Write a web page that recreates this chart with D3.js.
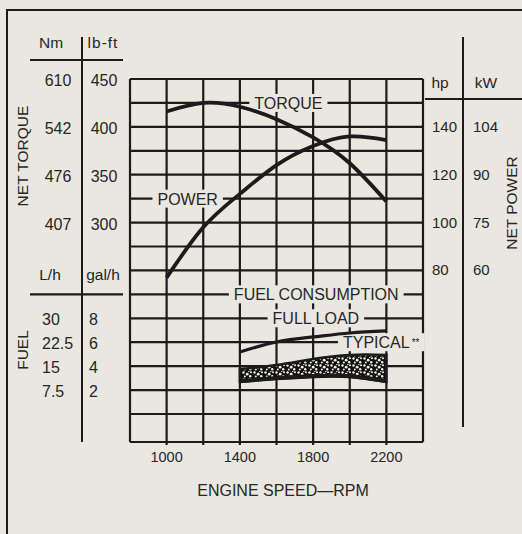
<!DOCTYPE html>
<html>
<head>
<meta charset="utf-8">
<script src="https://cdn.jsdelivr.net/npm/d3@7"></script>
<style>
  html, body { margin: 0; padding: 0; background: #e9e7e0; }
  svg { display: block; }
  text { font-family: "Liberation Sans", Arial, Helvetica, sans-serif; fill: #262626; }
</style>
</head>
<body>
<svg id="chart_svg" width="522" height="534"></svg>
<script>
// Engine speed (rpm) for every curve point
var rpm = [1000, 1200, 1400, 1600, 1800, 2000, 2200];
var fuel_rpm = [1400, 1600, 1800, 2000, 2200];

// Series values
var torque_lbft = [416, 425, 421, 408, 389, 362, 322];
var power_hp = [77, 98, 112, 124, 132, 136, 134.5];
var fuel_full_load = [5.18, 6.02, 6.44, 6.77, 6.94];
var fuel_typical_high = [3.76, 4.10, 4.60, 4.94, 4.94];
var fuel_typical_low = [2.68, 2.92, 3.10, 3.10, 2.68];

// Tick labels
var rpm_ticks = [1000, 1400, 1800, 2200];
var lbft_ticks = [450, 400, 350, 300];
var nm_labels = ["610", "542", "476", "407"];
var galh_ticks = [8, 6, 4, 2];
var lh_labels = ["30", "22.5", "15", "7.5"];
var hp_ticks = [140, 120, 100, 80];
var kw_labels = ["104", "90", "75", "60"];

var ink = "#1b1b1b";
var paper = "#e9e7e0";

var svg = d3.select("#chart_svg");

// Scales
// x: engine speed
var xScale = d3.scaleLinear().domain([800, 2400]).range([130, 423]);
// grid rows (scan is slightly stretched in the last row)
var rowScale = d3.scaleLinear().domain([0, 14, 15]).range([79, 414, 442]);
// each quantity maps to a row of the grid
var torqueScale = function(v) { return rowScale((450 - v) / 25); };
var powerScale = function(v) { return rowScale((160 - v) / 10); };
var fuelScale = function(v) { return rowScale((28 - v) / 2); };

// Outer frame (left and top edges only)
svg.append("path")
    .attr("d", "M7,534 V10 H522")
    .attr("fill", "none")
    .attr("stroke", ink)
    .attr("stroke-width", 2);

// GRID
var grid_g = svg.append("g");

// vertical lines every 200 rpm
grid_g.selectAll("vline")
    .data(d3.range(800, 2401, 200))
    .enter()
    .append("line")
        .attr("x1", function(d) { return xScale(d); })
        .attr("x2", function(d) { return xScale(d); })
        .attr("y1", rowScale(0))
        .attr("y2", function(d) { return (d == 800 || d == 2400) ? rowScale(15) : rowScale(15) + 3; })
        .attr("stroke", ink)
        .attr("stroke-width", 2.2);

// horizontal lines
grid_g.selectAll("hline")
    .data(d3.range(0, 16))
    .enter()
    .append("line")
        .attr("x1", xScale(800))
        .attr("x2", xScale(2400))
        .attr("y1", function(d) { return rowScale(d); })
        .attr("y2", function(d) { return rowScale(d); })
        .attr("stroke", ink)
        .attr("stroke-width", 2.2);

// Labels sitting on grid lines, with a paper-coloured box behind them
function gridLabel(txt, rpmPos, row, anchor, small) {
    var g = svg.append("g");
    var rect = g.append("rect").attr("fill", paper);
    var t = g.append("text")
        .attr("x", xScale(rpmPos))
        .attr("y", rowScale(row) + 6)
        .attr("text-anchor", anchor)
        .style("font-size", "16px")
        .text(txt);
    if (small) {
        t.append("tspan")
            .attr("dy", -2)
            .attr("dx", 2)
            .style("font-size", "10px")
            .text(small);
    }
    var bb = t.node().getBBox();
    rect.attr("x", bb.x - 5)
        .attr("y", rowScale(row) - 9)
        .attr("width", bb.width + 10)
        .attr("height", 18);
}

gridLabel("TORQUE", 1665, 1, "middle");
gridLabel("POWER", 1115, 5, "middle");
gridLabel("FUEL CONSUMPTION", 1817, 9, "middle");
gridLabel("FULL LOAD", 1815, 10, "middle");
gridLabel("TYPICAL", 1963, 11, "start", "**");

// CURVES
var curve_g = svg.append("g");

// Torque
curve_g.append("path")
    .datum(rpm.map(function(d, i) { return { rpm: d, v: torque_lbft[i] }; }))
    .attr("fill", "none")
    .attr("stroke", ink)
    .attr("stroke-width", 3.8)
    .attr("d", d3.line()
        .curve(d3.curveNatural)
        .x(function(d) { return xScale(d.rpm); })
        .y(function(d) { return torqueScale(d.v); })
    );

// Power
curve_g.append("path")
    .datum(rpm.map(function(d, i) { return { rpm: d, v: power_hp[i] }; }))
    .attr("fill", "none")
    .attr("stroke", ink)
    .attr("stroke-width", 3.8)
    .attr("d", d3.line()
        .curve(d3.curveNatural)
        .x(function(d) { return xScale(d.rpm); })
        .y(function(d) { return powerScale(d.v); })
    );

// Fuel full load
curve_g.append("path")
    .datum(fuel_rpm.map(function(d, i) { return { rpm: d, v: fuel_full_load[i] }; }))
    .attr("fill", "none")
    .attr("stroke", ink)
    .attr("stroke-width", 3.2)
    .attr("d", d3.line()
        .curve(d3.curveNatural)
        .x(function(d) { return xScale(d.rpm); })
        .y(function(d) { return fuelScale(d.v); })
    );

// Typical fuel band: speckled fill
var defs = svg.append("defs");
var pat = defs.append("pattern")
    .attr("id", "speckle")
    .attr("patternUnits", "userSpaceOnUse")
    .attr("width", 11)
    .attr("height", 7);
pat.append("rect").attr("width", 11).attr("height", 7).attr("fill", "#111");
[[1.5, 1.5, 1.2], [5.2, 3.2, 1.4], [9, 1.2, 1.0], [2.8, 5.4, 1.0], [8.2, 5.2, 1.2], [6.8, 0.6, 0.7]].forEach(function(c) {
    pat.append("circle")
        .attr("cx", c[0]).attr("cy", c[1]).attr("r", c[2])
        .attr("fill", "#f1efe8");
});

var band = fuel_rpm.map(function(d, i) {
    return { rpm: d, lo: fuel_typical_low[i], hi: fuel_typical_high[i] };
});

curve_g.append("path")
    .datum(band)
    .attr("fill", "url(#speckle)")
    .attr("stroke", ink)
    .attr("stroke-width", 2.5)
    .attr("d", d3.area()
        .curve(d3.curveNatural)
        .x(function(d) { return xScale(d.rpm); })
        .y0(function(d) { return fuelScale(d.lo); })
        .y1(function(d) { return fuelScale(d.hi); })
    );

// heavier lower edge of the band
curve_g.append("path")
    .datum(band)
    .attr("fill", "none")
    .attr("stroke", ink)
    .attr("stroke-width", 4)
    .attr("d", d3.line()
        .curve(d3.curveNatural)
        .x(function(d) { return xScale(d.rpm); })
        .y(function(d) { return fuelScale(d.lo) - 1; })
    );

// X AXIS LABELS
svg.append("g")
    .selectAll("xlab")
    .data(rpm_ticks)
    .enter()
    .append("text")
        .attr("x", function(d) { return xScale(d); })
        .attr("y", 462)
        .attr("text-anchor", "middle")
        .style("font-size", "14.5px")
        .text(function(d) { return d; });

svg.append("text")
    .attr("x", 283)
    .attr("y", 496)
    .attr("text-anchor", "middle")
    .style("font-size", "16px")
    .text("ENGINE SPEED\u2014RPM");

// LEFT SCALE BLOCK
var left_g = svg.append("g");

left_g.append("line")
    .attr("x1", 82).attr("x2", 82)
    .attr("y1", 37).attr("y2", rowScale(15))
    .attr("stroke", ink).attr("stroke-width", 2);
left_g.append("line")
    .attr("x1", 30).attr("x2", 123)
    .attr("y1", 60).attr("y2", 60)
    .attr("stroke", ink).attr("stroke-width", 2.2);
left_g.append("line")
    .attr("x1", 30).attr("x2", 123)
    .attr("y1", rowScale(9)).attr("y2", rowScale(9))
    .attr("stroke", ink).attr("stroke-width", 2.2);

left_g.append("text").attr("x", 51).attr("y", 48).attr("text-anchor", "middle")
    .style("font-size", "15.5px").text("Nm");
left_g.append("text").attr("x", 103).attr("y", 48).attr("text-anchor", "middle")
    .style("font-size", "15.5px").style("letter-spacing", "1px").text("lb-ft");
left_g.append("text").attr("x", 50).attr("y", 280).attr("text-anchor", "middle")
    .style("font-size", "15.5px").text("L/h");
left_g.append("text").attr("x", 103).attr("y", 280).attr("text-anchor", "middle")
    .style("font-size", "15.5px").text("gal/h");

lbft_ticks.forEach(function(v, i) {
    var y = torqueScale(v) + 7;
    left_g.append("text").attr("x", 58).attr("y", y).attr("text-anchor", "middle")
        .style("font-size", "16px").text(nm_labels[i]);
    left_g.append("text").attr("x", 104).attr("y", y).attr("text-anchor", "middle")
        .style("font-size", "16px").text(v);
});

galh_ticks.forEach(function(v, i) {
    var y = fuelScale(v) + 7;
    left_g.append("text").attr("x", 42).attr("y", y).attr("text-anchor", "start")
        .style("font-size", "16px").text(lh_labels[i]);
    left_g.append("text").attr("x", 89).attr("y", y).attr("text-anchor", "start")
        .style("font-size", "16px").text(v);
});

left_g.append("text")
    .attr("transform", "translate(28,156) rotate(-90)")
    .attr("text-anchor", "middle")
    .style("font-size", "15.5px")
    .text("NET TORQUE");
left_g.append("text")
    .attr("transform", "translate(28,350) rotate(-90)")
    .attr("text-anchor", "middle")
    .style("font-size", "15.5px")
    .text("FUEL");

// RIGHT SCALE BLOCK
var right_g = svg.append("g");

right_g.append("line")
    .attr("x1", 463).attr("x2", 463)
    .attr("y1", 37).attr("y2", 427)
    .attr("stroke", ink).attr("stroke-width", 2);
right_g.append("line")
    .attr("x1", 425).attr("x2", 522)
    .attr("y1", 99).attr("y2", 99)
    .attr("stroke", ink).attr("stroke-width", 2.2);

right_g.append("text").attr("x", 440).attr("y", 88).attr("text-anchor", "middle")
    .style("font-size", "15.5px").text("hp");
right_g.append("text").attr("x", 486).attr("y", 88).attr("text-anchor", "middle")
    .style("font-size", "15.5px").text("kW");

hp_ticks.forEach(function(v, i) {
    var y = powerScale(v) + 5;
    right_g.append("text").attr("x", 432).attr("y", y).attr("text-anchor", "start")
        .style("font-size", "15px").text(v);
    right_g.append("text").attr("x", 473).attr("y", y).attr("text-anchor", "start")
        .style("font-size", "15px").text(kw_labels[i]);
});

right_g.append("text")
    .attr("transform", "translate(517,203) rotate(-90)")
    .attr("text-anchor", "middle")
    .style("font-size", "15.5px")
    .text("NET POWER");
</script>
</body>
</html>
